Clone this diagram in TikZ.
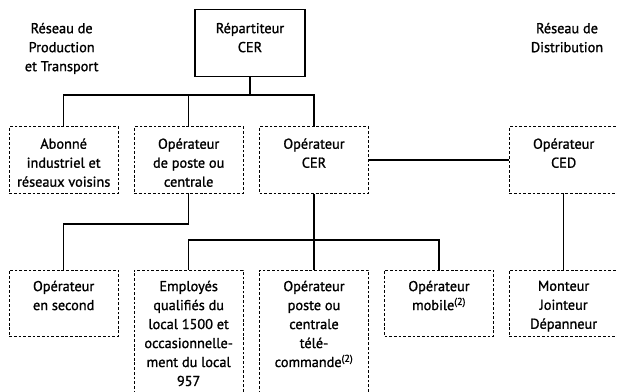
\documentclass[tikz,border=0pt]{standalone}
\usepackage{fontspec}
\setmainfont{PT Sans}[FakeBold=1.2]
\tikzset{
    chef/.style={draw=black, line width=0.95pt, solid, minimum width=3.30cm, minimum height=2.01cm},
    poste/.style={draw=black, line width=0.75pt, dash pattern=on 2.4pt off 1.6pt, minimum width=3.27cm, minimum height=2.00cm},
    poste haut/.style={poste, minimum height=3.90cm},
    intitule/.style={black, anchor=north, align=center, inner sep=0pt, font=\fontsize{12.2}{16.2}\selectfont},
    lien/.style={draw=black, line width=0.9pt, solid},
}
\begin{document}
\begin{tikzpicture}
    \useasboundingbox (0.00,0.00) rectangle (18.51,11.76);
    \node[intitule] (prod) at (1.85,11.08) {Réseau de\\Production\\et Transport};
    \node[intitule] (distr) at (17.01,11.08) {Réseau de\\Distribution};
    \node[chef] (rep) at (7.50,10.46) {};
    \node[intitule] (rep-t) at ([yshift=-0.40cm]rep.north) {Répartiteur\\CER};
    \node[poste] (abon) at (1.91,6.96) {};
    \node[intitule] (abon-t) at ([yshift=-0.36cm]abon.north) {Abonné\\industriel et\\réseaux voisins};
    \node[poste] (opposte) at (5.66,6.96) {};
    \node[intitule] (opposte-t) at ([yshift=-0.36cm]opposte.north) {Opérateur\\de poste ou\\centrale};
    \node[poste] (opcer) at (9.42,6.96) {};
    \node[intitule] (opcer-t) at ([yshift=-0.36cm]opcer.north) {Opérateur\\CER};
    \node[poste] (opced) at (16.91,6.96) {};
    \node[intitule] (opced-t) at ([yshift=-0.36cm]opced.north) {Opérateur\\CED};
    \node[poste] (second) at (1.91,2.66) {};
    \node[intitule] (second-t) at ([yshift=-0.33cm]second.north) {Opérateur\\en second};
    \node[poste haut] (employes) at (5.66,1.71) {};
    \node[intitule] (employes-t) at ([yshift=-0.33cm]employes.north) {Employés\\qualifiés du\\local 1500 et\\occasionnelle-\\ment du local\\957};
    \node[poste haut] (telecom) at (9.42,1.71) {};
    \node[intitule] (telecom-t) at ([yshift=-0.33cm]telecom.north) {Opérateur\\poste ou\\centrale\\télé-\\commande\textsuperscript{(2)}};
    \node[poste] (mobile) at (13.17,2.66) {};
    \node[intitule] (mobile-t) at ([yshift=-0.33cm]mobile.north) {Opérateur\\mobile\textsuperscript{(2)}};
    \node[poste] (monteur) at (16.91,2.66) {};
    \node[intitule] (monteur-t) at ([yshift=-0.33cm]monteur.north) {Monteur\\Jointeur\\Dépanneur};
    \coordinate (bus1) at (7.50,8.91);
    \coordinate (coude) at (5.66,5.04);
    \coordinate (bus2) at (9.42,4.56);
    \draw[lien] (rep.south) -- (bus1);
    \draw[lien] (abon.north) |- (bus1) -| (opcer.north);
    \draw[lien] (opposte.north) -- (opposte.north |- bus1);
    \draw[lien] (opcer.east) -- (opced.west);
    \draw[lien] (opposte.south) -- (coude) -| (second.north);
    \draw[lien] (opcer.south) -- (telecom.north);
    \draw[lien] (employes.north) |- (bus2) -| (mobile.north);
    \draw[lien] (opced.south) -- (monteur.north);
\end{tikzpicture}
\end{document}
